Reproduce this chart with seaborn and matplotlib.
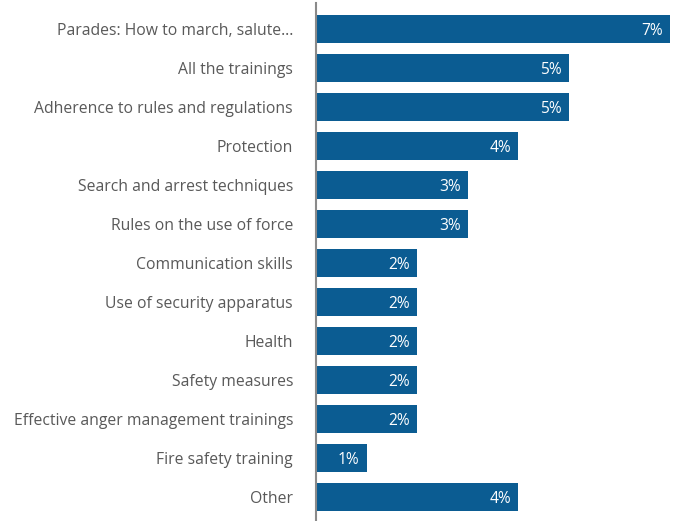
import matplotlib
matplotlib.use("Agg")
import matplotlib.pyplot as plt
import seaborn as sns
import pandas as pd

topics = [
    "Parades: How to march, salute…",
    "All the trainings",
    "Adherence to rules and regulations",
    "Protection",
    "Search and arrest techniques",
    "Rules on the use of force",
    "Communication skills",
    "Use of security apparatus",
    "Health",
    "Safety measures",
    "Effective anger management trainings",
    "Fire safety training",
    "Other",
]
shares = [7, 5, 5, 4, 3, 3, 2, 2, 2, 2, 2, 1, 4]

df = pd.DataFrame({"topic": topics, "share": shares})

sns.set_theme(style="white")
plt.rcParams["font.family"] = ["Open Sans", "DejaVu Sans"]

W, H = 677, 521
fig = plt.figure(figsize=(W / 100, H / 100), dpi=100)
# axes spans from the vertical axis line to the right edge
left_px, top_px, bottom_px = 316, 3, 521
ax = fig.add_axes([left_px / W, (H - bottom_px) / H, (W - left_px) / W, (bottom_px - top_px) / H])

bar_color = "#0b5c92"
sns.barplot(data=df, x="share", y="topic", orient="h", color=bar_color,
            saturation=1, width=0.72, linewidth=0, ax=ax)

px_per_unit = 50.6
ax.set_xlim(0, (W - left_px) / px_per_unit)
ax.set_ylim((bottom_px - 29) / 39, (top_px - 29) / 39)

for i, v in enumerate(shares):
    ax.text(v - 7 / px_per_unit, i, f"{v}%", ha="right", va="center_baseline",
            color="white", fontsize=11.2)

ax.set_xlabel("")
ax.set_ylabel("")
ax.set_xticks([])
ax.tick_params(axis="y", length=0, pad=16.5, labelsize=11.35, labelcolor="#595959")
for s in ["top", "right", "bottom"]:
    ax.spines[s].set_visible(False)
ax.spines["left"].set_color("#8a8a8a")
ax.spines["left"].set_linewidth(1.5)

fig.savefig("out.png", dpi=100)
